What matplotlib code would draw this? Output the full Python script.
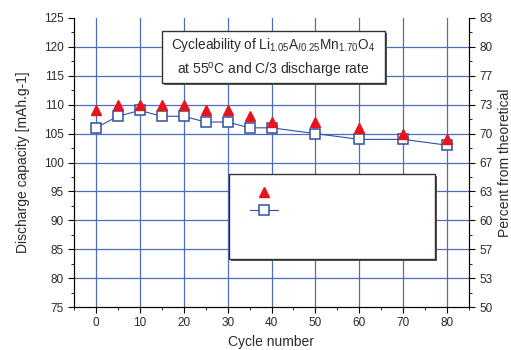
import matplotlib
matplotlib.use("Agg")
import matplotlib.pyplot as plt
from matplotlib.patches import Rectangle
from matplotlib.ticker import MultipleLocator
from matplotlib.lines import Line2D

plt.rcParams['font.family'] = ['Liberation Sans', 'DejaVu Sans']
plt.rcParams['mathtext.fontset'] = 'custom'
plt.rcParams['mathtext.rm'] = 'Liberation Sans'

cycles = [0, 5, 10, 15, 20, 25, 30, 35, 40, 50, 60, 70, 80]
theoretical_pts = [109, 110, 110, 110, 110, 109, 109, 108, 107, 107, 106, 105, 104]
capacity = [106, 108, 109, 108, 108, 107, 107, 106, 106, 105, 104, 104, 103]
left_ticks = [75, 80, 85, 90, 95, 100, 105, 110, 115, 120, 125]
right_labels = ['50', '53', '57', '60', '63', '67', '70', '73', '77', '80', '83']
x_ticks = [0, 10, 20, 30, 40, 50, 60, 70, 80]

grid_c = '#4f6cbf'
blue = '#2f4fa8'
red = '#e8141c'
txt = '#2a2a2a'

fig = plt.figure(figsize=(5.11, 3.5), dpi=100)
ax = fig.add_axes([74/511, 1-307/350, 395/511, 289/350])
ax.set_xlim(-5, 85)
ax.set_ylim(75, 125)
ax.set_xticks(x_ticks)
ax.set_yticks(left_ticks)
ax.xaxis.set_minor_locator(MultipleLocator(5))
ax.yaxis.set_minor_locator(MultipleLocator(2.5))
for xv in x_ticks:
    ax.axvline(xv, color=grid_c, lw=0.9, zorder=1)
for yv in left_ticks[1:-1]:
    ax.axhline(yv, color=grid_c, lw=0.9, zorder=1)
ax.spines['top'].set_visible(False)
ax.tick_params(axis='both', which='major', direction='out', length=4, labelsize=8.5, colors='black', labelcolor=txt)
ax.tick_params(axis='both', which='minor', direction='out', length=2.5)

ax.plot(cycles, capacity, color=blue, lw=0.8, marker='s', ms=7, mfc='white', mec=blue, mew=1.1, zorder=3)
ax.plot(cycles, theoretical_pts, ls='none', marker='^', ms=6.5, color=red, zorder=4)

ax.set_xlabel('Cycle number', fontsize=10, color=txt)
ax.set_ylabel('Discharge capacity [mAh.g-1]', fontsize=10, color=txt, labelpad=10)

ax2 = ax.twinx()
ax2.set_ylim(75, 125)
ax2.set_yticks(left_ticks)
ax2.set_yticklabels(right_labels)
ax2.yaxis.set_minor_locator(MultipleLocator(2.5))
ax2.spines['top'].set_visible(False)
ax2.tick_params(axis='y', which='major', direction='out', length=4, labelsize=8.5, labelcolor=txt)
ax2.tick_params(axis='y', which='minor', direction='out', length=2.5)
ax2.set_ylabel('Percent from theoretical', fontsize=10, color=txt)

dx, dy = 1.5/395, 1.5/289
# title box
tb_x0, tb_x1 = (162-74)/395, (385-74)/395
tb_y0, tb_y1 = (307-83)/289, (307-31)/289
ax.add_patch(Rectangle((tb_x0+dx, tb_y0-dy), tb_x1-tb_x0, tb_y1-tb_y0, transform=ax.transAxes,
                       facecolor='#555555', edgecolor='none', zorder=5))
ax.add_patch(Rectangle((tb_x0, tb_y0), tb_x1-tb_x0, tb_y1-tb_y0, transform=ax.transAxes,
                       facecolor='white', edgecolor='#333333', lw=1.0, zorder=6))
cx = (tb_x0+tb_x1)/2
ax.text(cx, (307-45)/289, r'Cycleability of Li$_{1.05}$A$_{l0.25}$Mn$_{1.70}$O$_4$', transform=ax.transAxes,
        ha='center', va='center', fontsize=9.8, color=txt, zorder=7)
ax.text(cx, (307-70)/289, r'at 55$^{\rm o}$C and C/3 discharge rate', transform=ax.transAxes,
        ha='center', va='center', fontsize=10, color=txt, zorder=7)

# legend box
lb_x0, lb_x1 = (229-74)/395, (435-74)/395
lb_y0, lb_y1 = (307-259)/289, (307-174)/289
ax.add_patch(Rectangle((lb_x0+dx, lb_y0-dy), lb_x1-lb_x0, lb_y1-lb_y0, transform=ax.transAxes,
                       facecolor='#555555', edgecolor='none', zorder=5))
ax.add_patch(Rectangle((lb_x0, lb_y0), lb_x1-lb_x0, lb_y1-lb_y0, transform=ax.transAxes,
                       facecolor='white', edgecolor='#333333', lw=1.0, zorder=6))
h1 = Line2D([], [], ls='none', marker='^', ms=6.5, color=red)
h2 = Line2D([], [], color=blue, lw=0.8, marker='s', ms=7, mfc='white', mec=blue, mew=1.1)
leg = ax.legend([h1, h2], ['', ''], loc='upper left', bbox_to_anchor=((243-74)/395, (307-179)/289),
                frameon=False, handlelength=2.0, labelspacing=0.3, borderpad=0, handletextpad=0)
leg.set_zorder(8)

fig.savefig('out.png', dpi=100)
